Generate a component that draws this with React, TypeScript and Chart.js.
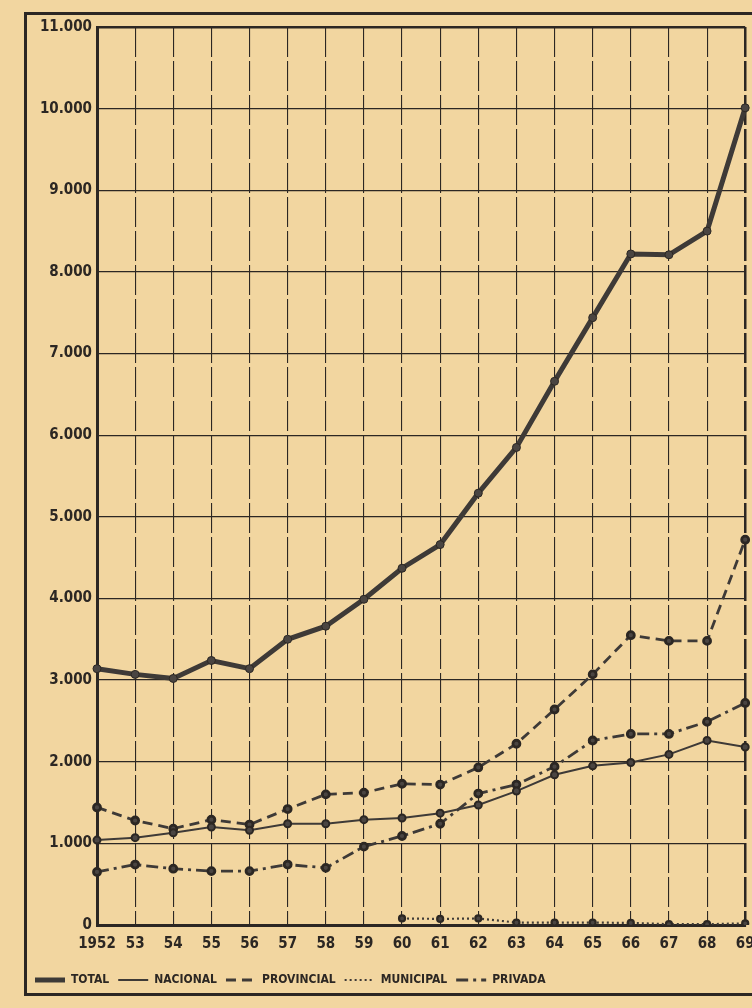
import React, { useEffect, useRef } from "react";
import { Chart, registerables } from "chart.js";

Chart.register(...registerables);

const years = ["1952", "53", "54", "55", "56", "57", "58", "59", "60", "61", "62", "63", "64", "65", "66", "67", "68", "69"];
const total = [3140, 3070, 3020, 3240, 3140, 3500, 3660, 3990, 4370, 4660, 5290, 5850, 6660, 7440, 8220, 8210, 8500, 10010];
const nacional = [1040, 1070, 1130, 1200, 1160, 1240, 1240, 1290, 1310, 1370, 1470, 1640, 1840, 1950, 1990, 2090, 2260, 2180];
const provincial = [1440, 1280, 1180, 1290, 1230, 1420, 1600, 1620, 1730, 1720, 1930, 2220, 2640, 3070, 3550, 3480, 3480, 4720];
const municipal = [null, null, null, null, null, null, null, null, 80, 75, 80, 30, 30, 30, 25, 10, 10, 20];
const privada = [650, 740, 690, 660, 660, 740, 700, 960, 1090, 1240, 1610, 1720, 1940, 2260, 2340, 2340, 2490, 2720];
const yMax = 11000;
const yStep = 1000;

const PAPER = "#f2d6a0";
const INK = "#2c2723";
const LINE = "#3e3a37";
const FONT = "'DejaVu Sans Condensed', 'Liberation Sans Narrow', 'Arial Narrow', 'DejaVu Sans', sans-serif";

function fmt(v: number): string {
  if (v === 0) return "0";
  const s = String(v);
  return s.slice(0, s.length - 3) + "." + s.slice(s.length - 3);
}

export default function App() {
  const ref = useRef<HTMLCanvasElement | null>(null);

  useEffect(() => {
    document.body.style.margin = "0";
    document.body.style.background = PAPER;
    const canvas = ref.current;
    if (!canvas) return;
    const chart = new Chart(canvas, {
      type: "line",
      data: {
        labels: years,
        datasets: [
          {
            label: "TOTAL",
            data: total,
            borderColor: LINE,
            backgroundColor: LINE,
            borderWidth: 5,
            pointRadius: 4,
            pointBackgroundColor: "#4a4542",
            pointBorderColor: INK,
            pointBorderWidth: 1,
            tension: 0,
          },
          {
            label: "NACIONAL",
            data: nacional,
            borderColor: LINE,
            backgroundColor: LINE,
            borderWidth: 2,
            pointRadius: 3.5,
            pointBackgroundColor: "#4a4542",
            pointBorderColor: INK,
            tension: 0,
          },
          {
            label: "PROVINCIAL",
            data: provincial,
            borderColor: LINE,
            backgroundColor: LINE,
            borderWidth: 2.8,
            borderDash: [10, 6],
            pointRadius: 3.5,
            pointBackgroundColor: "#4a4542",
            pointBorderColor: INK,
            tension: 0,
          },
          {
            label: "MUNICIPAL",
            data: municipal,
            borderColor: LINE,
            backgroundColor: LINE,
            borderWidth: 2.2,
            borderDash: [2, 3],
            pointRadius: 3,
            pointBackgroundColor: "#4a4542",
            pointBorderColor: INK,
            spanGaps: false,
            tension: 0,
          },
          {
            label: "PRIVADA",
            data: privada,
            borderColor: LINE,
            backgroundColor: LINE,
            borderWidth: 2.8,
            borderDash: [12, 5, 3, 5],
            pointRadius: 3.5,
            pointBackgroundColor: "#4a4542",
            pointBorderColor: INK,
            tension: 0,
          },
        ],
      },
      options: {
        animation: false,
        responsive: false,
        maintainAspectRatio: false,
        layout: { padding: { left: 26, right: 4, top: 27, bottom: 12 } },
        plugins: {
          tooltip: { enabled: false },
          title: { display: false },
          legend: {
            display: true,
            position: "bottom",
            align: "start",
            labels: {
              usePointStyle: true,
              pointStyleWidth: 30,
              padding: 9,
              color: INK,
              font: { family: FONT, size: 12, weight: "bold" },
              generateLabels: (ch: any) =>
                ch.data.datasets.map((ds: any, i: number) => ({
                  text: ds.label,
                  fillStyle: LINE,
                  strokeStyle: LINE,
                  lineWidth: ds.borderWidth,
                  lineDash: ds.borderDash || [],
                  pointStyle: "line",
                  fontColor: INK,
                  hidden: false,
                  datasetIndex: i,
                })),
            },
          },
        },
        scales: {
          x: {
            type: "category",
            offset: false,
            grid: {
              color: INK,
              lineWidth: (c: any) => (c.index === years.length - 1 ? 2.5 : 1.1),
              drawTicks: false,
            },
            border: { display: true, color: INK, width: 3, dash: [30, 4] },
            ticks: {
              color: INK,
              font: { family: FONT, size: 15, weight: "bold" },
              padding: 10,
              autoSkip: false,
              maxRotation: 0,
              minRotation: 0,
            },
            afterFit: (s: any) => {
              s.paddingLeft = 0;
              s.paddingRight = 0;
              s.height = 40;
            },
          },
          y: {
            min: 0,
            max: yMax,
            grid: {
              color: INK,
              lineWidth: (c: any) => (c.tick && c.tick.value === yMax ? 2.5 : 1.3),
              drawTicks: false,
            },
            border: { display: true, color: INK, width: 3 },
            ticks: {
              stepSize: yStep,
              color: INK,
              font: { family: FONT, size: 15, weight: "bold" },
              padding: 5,
              callback: (v: any) => fmt(Number(v)),
            },
            afterFit: (s: any) => {
              s.width = 71;
              s.paddingTop = 0;
              s.paddingBottom = 0;
            },
          },
        },
      },
    });
    return () => chart.destroy();
  }, []);

  return (
    <div style={{ position: "fixed", left: 0, top: 0, width: 752, height: 1008, background: PAPER, overflow: "hidden" }}>
      <div
        style={{
          position: "absolute",
          left: 24,
          top: 12,
          width: 780,
          height: 984,
          border: `3px solid ${INK}`,
          boxSizing: "border-box",
        }}
      />
      <canvas ref={ref} width={752} height={1008} style={{ position: "absolute", left: 0, top: 0, width: 752, height: 1008 }} />
    </div>
  );
}
